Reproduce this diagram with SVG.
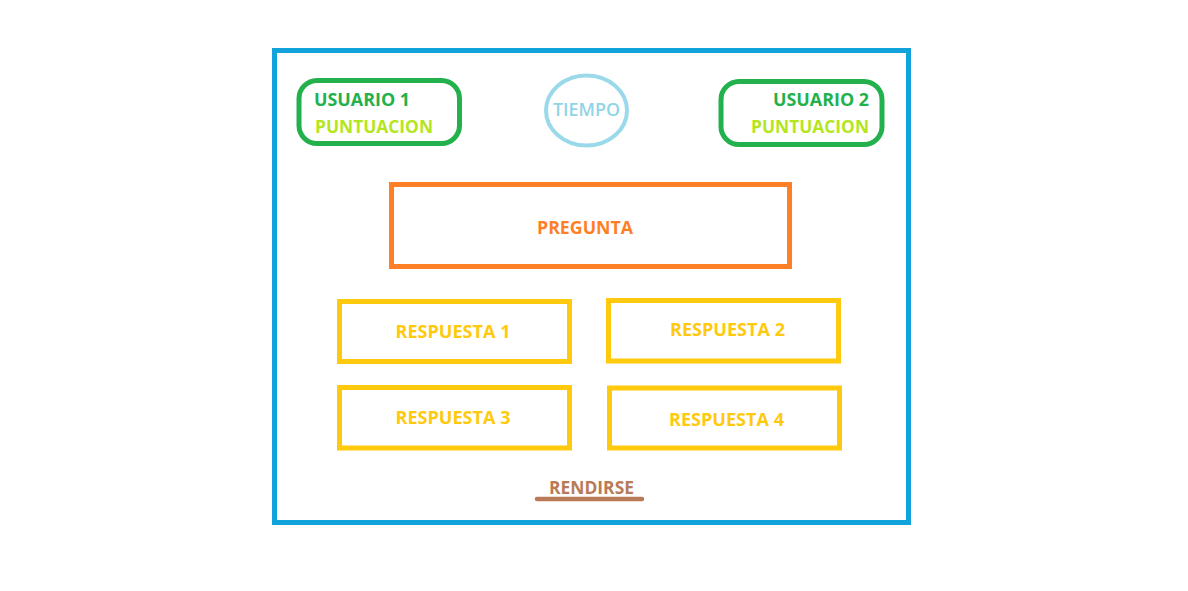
<svg xmlns="http://www.w3.org/2000/svg" width="1188" height="591" viewBox="0 0 1188 591">
<style>
text{font-family:"Open Sans","Liberation Sans",sans-serif;font-weight:bold;font-size:18px}
.frame{fill:none;stroke:#12a2dc;stroke-width:5}
.user{fill:none;stroke:#22b14c;stroke-width:5}
.uname{fill:#22b14c;font-size:17.5px}
.score{fill:#b5e61d;font-size:17.5px}
.time{fill:none;stroke:#99d9ea;stroke-width:4}
.ttext{fill:#90d4e6;font-weight:600;font-size:18.5px}
.q{fill:none;stroke:#ff7f27;stroke-width:5}
.qtext{fill:#ff7f27}
.ans{fill:none;stroke:#ffc90e;stroke-width:5}
.atext{fill:#ffc90e}
.give{fill:#b97a57}
</style>
<rect class="frame" x="274.5" y="50.5" width="634" height="472"/>
<g id="usuario1">
<rect class="user" x="299" y="80.5" width="160.5" height="63" rx="18"/>
<text class="uname" x="314" y="106" textLength="96" lengthAdjust="spacingAndGlyphs">USUARIO 1</text>
<text class="score" x="315" y="132.5" textLength="118" lengthAdjust="spacingAndGlyphs">PUNTUACION</text>
</g>
<g id="tiempo">
<ellipse class="time" cx="586.5" cy="110.5" rx="40.5" ry="35"/>
<text class="ttext" x="553" y="115.5" textLength="67" lengthAdjust="spacingAndGlyphs">TIEMPO</text>
</g>
<g id="usuario2">
<rect class="user" x="721" y="81.5" width="161" height="63" rx="18"/>
<text class="uname" x="773" y="106" textLength="96" lengthAdjust="spacingAndGlyphs">USUARIO 2</text>
<text class="score" x="751" y="132.5" textLength="118" lengthAdjust="spacingAndGlyphs">PUNTUACION</text>
</g>
<g id="pregunta">
<rect class="q" x="391.5" y="184.5" width="398" height="82"/>
<text class="qtext" x="537" y="233.5" textLength="96" lengthAdjust="spacingAndGlyphs">PREGUNTA</text>
</g>
<g id="respuesta1">
<rect class="ans" x="339.5" y="301.5" width="230" height="60"/>
<text class="atext" x="395.5" y="338" textLength="115" lengthAdjust="spacingAndGlyphs">RESPUESTA 1</text>
</g>
<g id="respuesta2">
<rect class="ans" x="608.5" y="300.5" width="230" height="60.5"/>
<text class="atext" x="670" y="336" textLength="115" lengthAdjust="spacingAndGlyphs">RESPUESTA 2</text>
</g>
<g id="respuesta3">
<rect class="ans" x="339.5" y="387.5" width="230" height="60.5"/>
<text class="atext" x="395.5" y="424" textLength="115" lengthAdjust="spacingAndGlyphs">RESPUESTA 3</text>
</g>
<g id="respuesta4">
<rect class="ans" x="609.5" y="388" width="230" height="60"/>
<text class="atext" x="669" y="426" textLength="115" lengthAdjust="spacingAndGlyphs">RESPUESTA 4</text>
</g>
<g id="rendirse">
<text class="give" x="549" y="494" textLength="85" lengthAdjust="spacingAndGlyphs">RENDIRSE</text>
<line x1="537" y1="499" x2="642" y2="499" stroke="#b97a57" stroke-width="4.5" stroke-linecap="round"/>
</g>
<g id="connectors"/>
</svg>
